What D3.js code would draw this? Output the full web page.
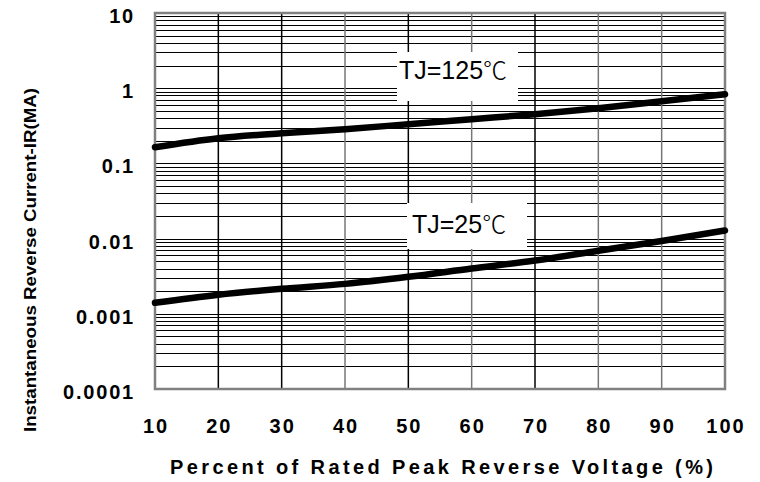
<!DOCTYPE html>
<html>
<head>
<meta charset="utf-8">
<script src="https://cdn.jsdelivr.net/npm/d3@7/dist/d3.min.js"></script>
<style>
  body { margin: 0; background: #fff; }
  text { font-family: "Liberation Sans", Arial, sans-serif; }
</style>
</head>
<body>
<svg id="chart" width="760" height="482"></svg>
<script>
// percent of rated peak reverse voltage
var percents = [10, 20, 30, 40, 50, 60, 70, 80, 90, 100];
// instantaneous reverse current, mA
var tj125 = [0.164, 0.216, 0.252, 0.285, 0.332, 0.387, 0.451, 0.542, 0.671, 0.83];
var tj25 = [0.0014, 0.00179, 0.00215, 0.0025, 0.0031, 0.0040, 0.0051, 0.0069, 0.0093, 0.0128];

var xTicks = [10, 20, 30, 40, 50, 60, 70, 80, 90, 100];
var yTicks = [0.0001, 0.001, 0.01, 0.1, 1, 10];
var yTickLabels = ['0.0001', '0.001', '0.01', '0.1', '1', '10'];
// vertical grid lines drawn in grey instead of black
var greyLines = [40, 60, 80, 90];

var margin = {top: 13, right: 35, bottom: 93, left: 155};
var width = 760 - margin.left - margin.right,
    height = 482 - margin.top - margin.bottom;

var svg = d3.select('#chart');
var g = svg.append('g')
    .attr('transform', 'translate(' + margin.left + ',' + margin.top + ')');

var x = d3.scaleLinear().domain([10, 100]).range([0, width]);
var y = d3.scaleLog().domain([0.0001, 10]).range([height, 0]);

// minor log lines 1..9 in every decade
var hLines = [];
for (var e = -4; e < 1; e++) {
    for (var m = 1; m < 10; m++) hLines.push(m * Math.pow(10, e));
}
hLines.push(10);

g.append('g').selectAll('line')
    .data(hLines)
    .enter().append('line')
    .attr('x1', 0).attr('x2', width)
    .attr('y1', function(d) { return Math.round(y(d)) + 0.5; })
    .attr('y2', function(d) { return Math.round(y(d)) + 0.5; })
    .attr('stroke', '#000')
    .attr('stroke-width', 1);

g.append('g').selectAll('line')
    .data(xTicks.slice(1, -1))
    .enter().append('line')
    .attr('x1', function(d) { return x(d); })
    .attr('x2', function(d) { return x(d); })
    .attr('y1', 0).attr('y2', height)
    .attr('stroke', function(d) { return greyLines.indexOf(d) >= 0 ? '#777' : '#000'; })
    .attr('stroke-width', 1.5);

// frame
g.append('rect')
    .attr('width', width).attr('height', height)
    .attr('fill', 'none')
    .attr('stroke', '#808080')
    .attr('stroke-width', 2.5);

// label boxes blank out the grid
function label(txt, x0, y0, w, h, tx, ty) {
    g.append('rect')
        .attr('x', x0 - margin.left).attr('y', y0 - margin.top)
        .attr('width', w).attr('height', h)
        .attr('fill', '#fff');
    var t = g.append('text')
        .attr('x', tx - margin.left).attr('y', ty - margin.top)
        .attr('font-size', 25);
    t.append('tspan').text(txt);
    t.append('tspan')
        .style('font-family', '"Noto Sans CJK SC", sans-serif')
        .style('font-weight', 300)
        .attr('font-size', 24)
        .text('\u2103');
}
label('TJ=125', 397, 52, 121, 49, 399, 79);
label('TJ=25', 407, 203, 120, 46, 412, 233);

var line = d3.line()
    .x(function(d, i) { return x(percents[i]); })
    .y(function(d) { return y(d); })
    .curve(d3.curveMonotoneX);

[tj125, tj25].forEach(function(s) {
    g.append('path')
        .datum(s)
        .attr('d', line)
        .attr('fill', 'none')
        .attr('stroke', '#000')
        .attr('stroke-width', 6.5)
        .attr('stroke-linecap', 'round');
});

// tick labels
g.append('g').selectAll('text')
    .data(yTicks)
    .enter().append('text')
    .attr('x', -20)
    .attr('y', function(d) { return y(d) + 10; })
    .attr('text-anchor', 'end')
    .attr('font-size', 20)
    .attr('font-weight', 'bold')
    .attr('letter-spacing', 1.8)
    .text(function(d, i) { return yTickLabels[i]; });

g.append('g').selectAll('text')
    .data(xTicks)
    .enter().append('text')
    .attr('x', function(d) { return x(d) + 1; })
    .attr('y', height + 44)
    .attr('text-anchor', 'middle')
    .attr('font-size', 20)
    .attr('font-weight', 'bold')
    .attr('letter-spacing', 2)
    .text(function(d) { return d; });

// axis titles
svg.append('text')
    .attr('x', 170).attr('y', 474)
    .attr('font-size', 20)
    .attr('font-weight', 'bold')
    .attr('textLength', 543)
    .attr('lengthAdjust', 'spacing')
    .text('Percent of Rated Peak Reverse Voltage (%)');

svg.append('text')
    .attr('transform', 'translate(36,432) rotate(-90)')
    .attr('font-size', 17)
    .attr('font-weight', 'bold')
    .attr('textLength', 344)
    .attr('lengthAdjust', 'spacingAndGlyphs')
    .text('Instantaneous Reverse Current-IR(MA)');
</script>
</body>
</html>
